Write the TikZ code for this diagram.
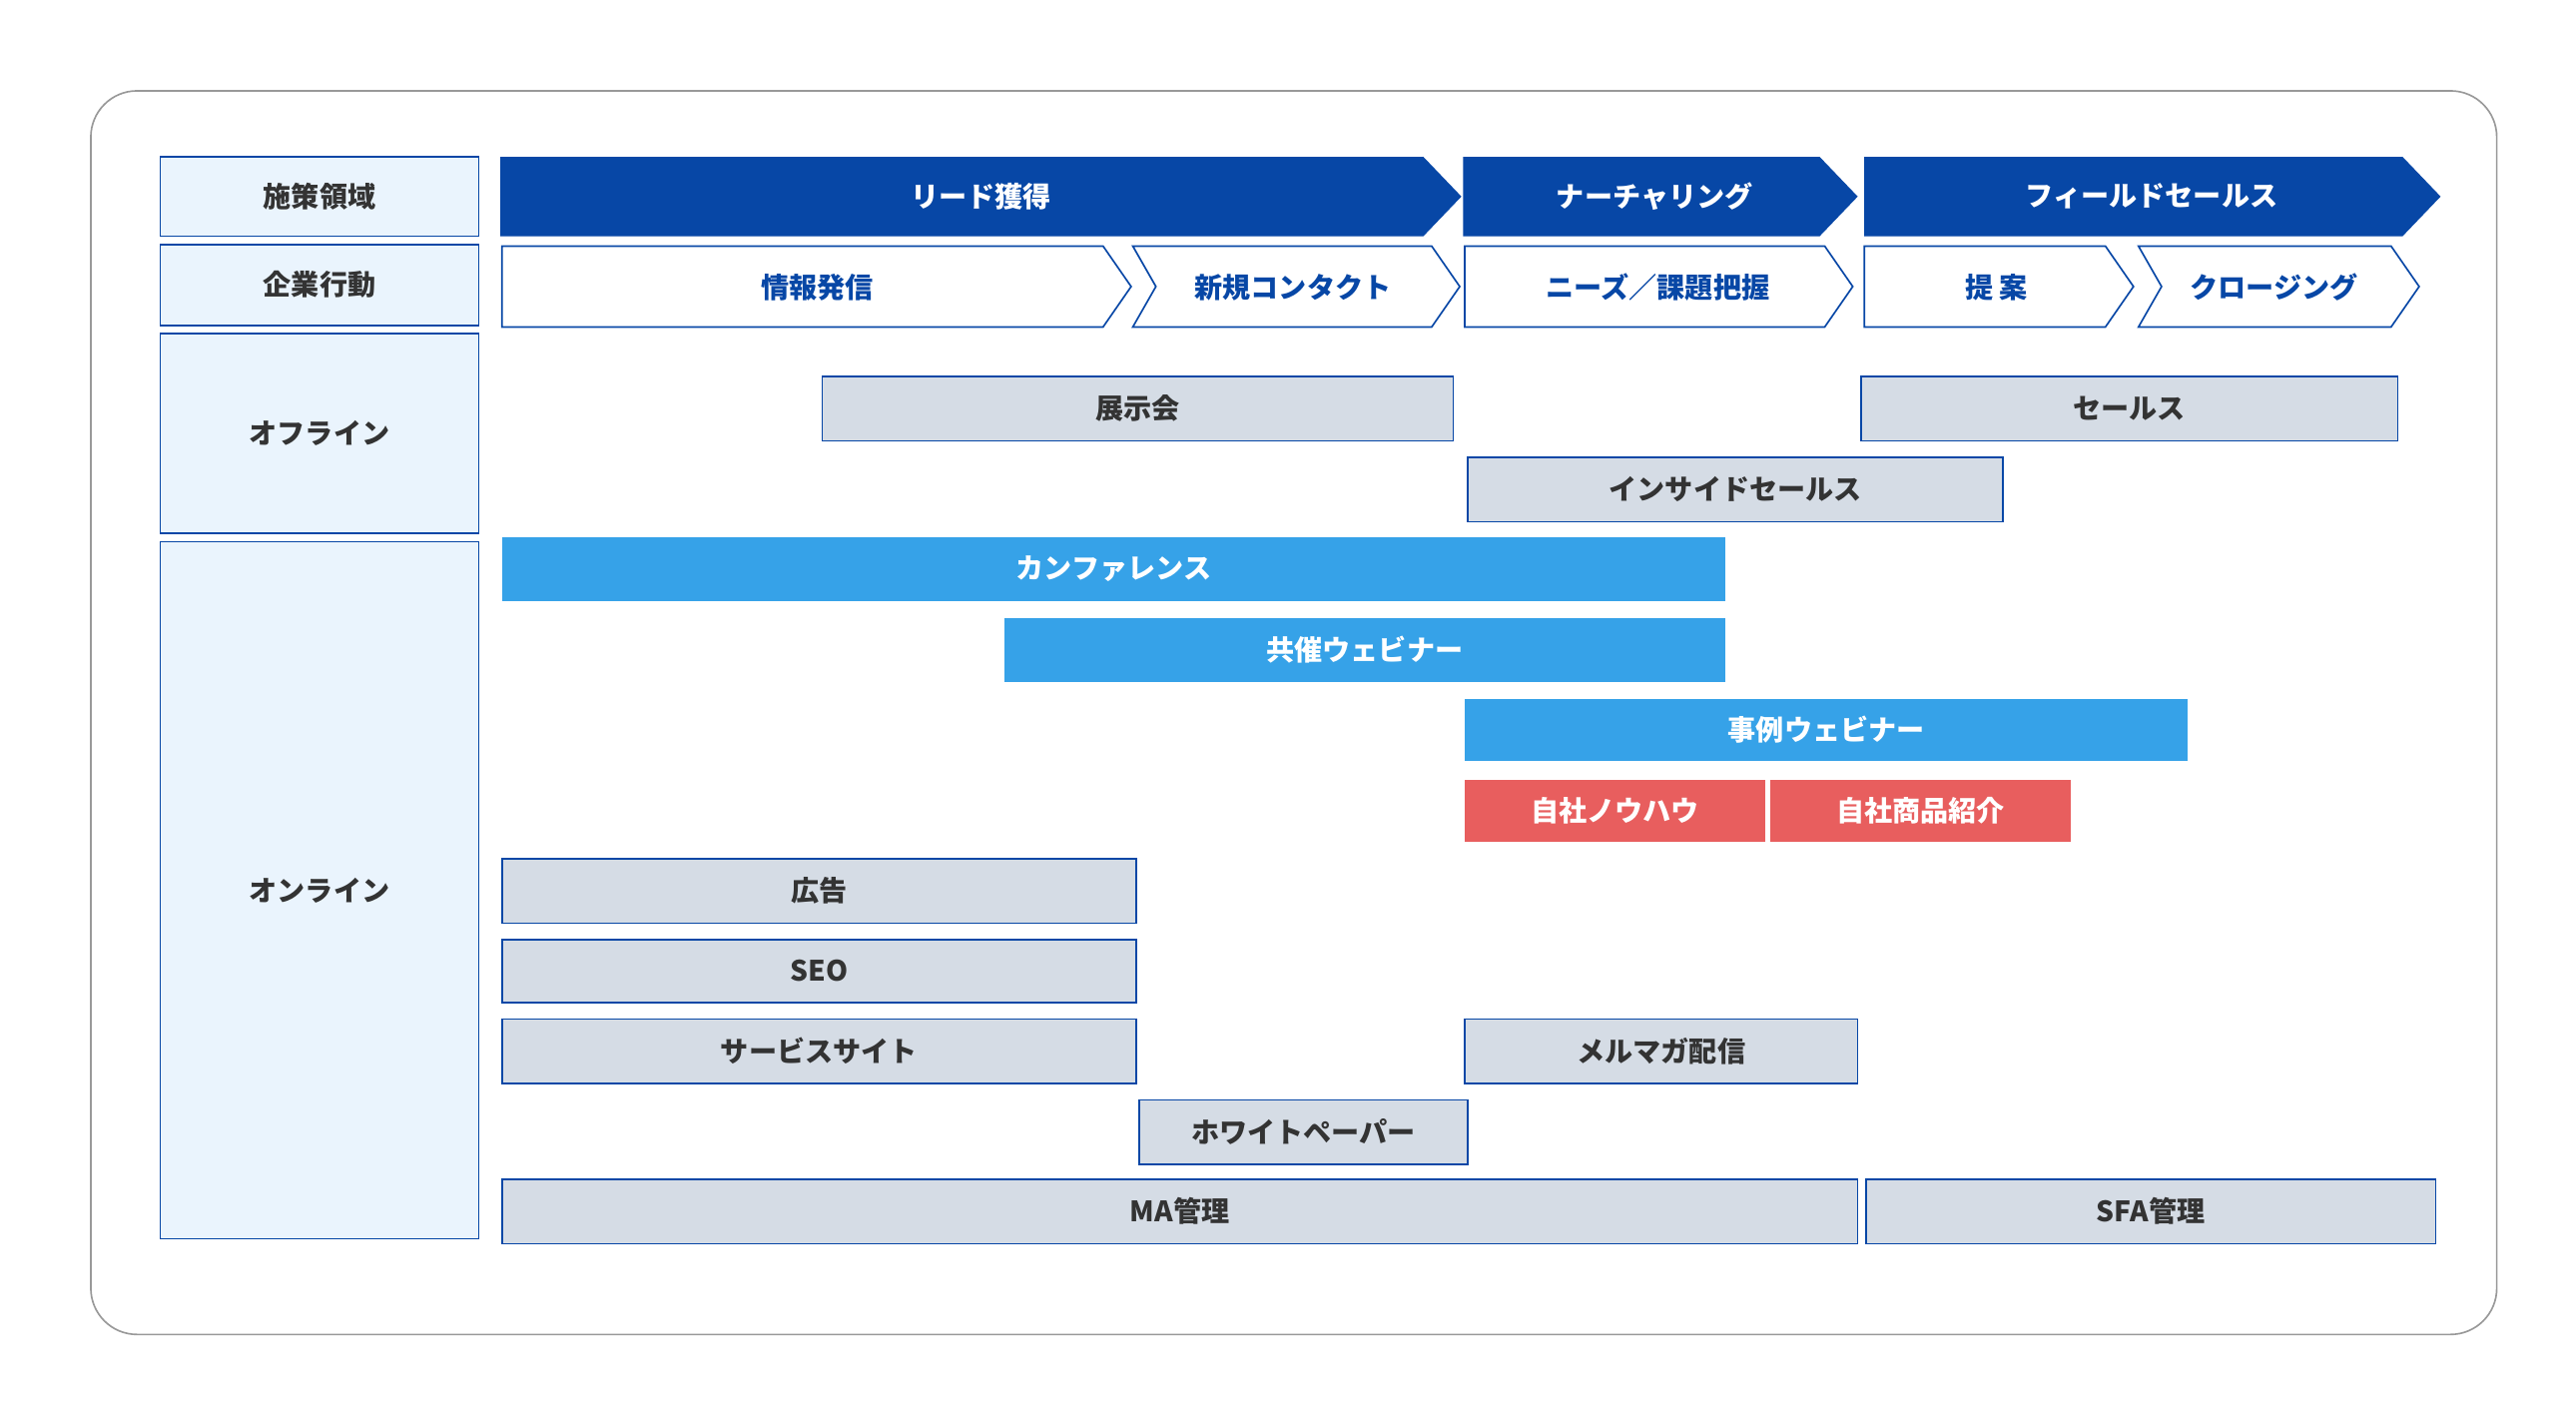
\documentclass[tikz,border=0pt]{standalone}
\usepackage{fontspec}
\setmainfont{Noto Sans CJK JP}
\definecolor{navy}{HTML}{0747A6}
\definecolor{paleblue}{HTML}{EAF4FD}
\definecolor{barfill}{HTML}{D5DCE5}
\definecolor{skyblue}{HTML}{36A2E8}
\definecolor{redbar}{HTML}{E85E5E}
\definecolor{ink}{HTML}{333333}
\newcommand{\planbar}[6]{% name, x1, x2, y1, y2, text
  \node[graybar, minimum width={#3-#2}, minimum height={#5-#4}] (#1) at ({(#2+#3)/2},{(#4+#5)/2}) {#6};}
\tikzset{
  lbl/.style={font=\fontsize{17}{20}\selectfont\bfseries},
  graybar/.style={draw=navy, line width=1pt, fill=barfill, text=ink, lbl, inner sep=0pt},
  headbox/.style={draw=navy, line width=1pt, fill=paleblue, text=ink, lbl, inner sep=0pt},
  bluebar/.style={graybar, draw=none, fill=skyblue, text=white},
  redbox/.style={graybar, draw=none, fill=redbar, text=white},
  arrowhead/.style={fill=navy},
  chevron/.style={draw=navy, line width=1pt, fill=white}
}
\begin{document}
\begin{tikzpicture}[x=1pt,y=-1pt]
\useasboundingbox (0,0) rectangle (1560,860);
\draw[black!40, line width=1pt, rounded corners=28] (55,55) rectangle (1512,808);
% left column
\node[headbox, minimum width=193, minimum height=48] (area) at (193.5,119) {施策領域};
\node[headbox, minimum width=193, minimum height=49] (action) at (193.5,172.5) {企業行動};
\node[headbox, minimum width=193, minimum height=121] (offline) at (193.5,262.5) {オフライン};
\node[headbox, minimum width=193, minimum height=422] (online) at (193.5,539) {オンライン};
% top row
\fill[arrowhead] (303,95) -- (862,95) -- (885,119) -- (862,143) -- (303,143) -- cycle;
\node[lbl, text=white] (lead) at (594,119) {リード獲得};
\fill[arrowhead] (886,95) -- (1102,95) -- (1125,119) -- (1102,143) -- (886,143) -- cycle;
\node[lbl, text=white] (nurture) at (1002,119) {ナーチャリング};
\fill[arrowhead] (1129,95) -- (1455,95) -- (1478,119) -- (1455,143) -- (1129,143) -- cycle;
\node[lbl, text=white] (field) at (1303,119) {フィールドセールス};
% second row
\draw[chevron] (304,149) -- (668,149) -- (685,173.5) -- (668,198) -- (304,198) -- cycle;
\node[lbl, text=navy] (info) at (495,174) {情報発信};
\draw[chevron] (686,149) -- (867,149) -- (884,173.5) -- (867,198) -- (686,198) -- (700,173.5) -- cycle;
\node[lbl, text=navy] (contact) at (783,174) {新規コンタクト};
\draw[chevron] (887,149) -- (1105,149) -- (1122,173.5) -- (1105,198) -- (887,198) -- cycle;
\node[lbl, text=navy] (needs) at (1004,174) {ニーズ／課題把握};
\draw[chevron] (1129,149) -- (1275,149) -- (1292,173.5) -- (1275,198) -- (1129,198) -- cycle;
\node[lbl, text=navy] (propose) at (1209,174) {提 案};
\draw[chevron] (1295,149) -- (1448,149) -- (1465,173.5) -- (1448,198) -- (1295,198) -- (1309,173.5) -- cycle;
\node[lbl, text=navy] (closing) at (1377,174) {クロージング};
% bars
\planbar{expo}{498}{880}{228}{267}{展示会}
\planbar{sales}{1127}{1452}{228}{267}{セールス}
\planbar{inside}{889}{1213}{277}{316}{インサイドセールス}
\node[bluebar, minimum width=741, minimum height=39] (conf) at (674.5,344.5) {カンファレンス};
\node[bluebar, minimum width=437, minimum height=39] (cowebinar) at (826.5,393.5) {共催ウェビナー};
\node[bluebar, minimum width=438, minimum height=38] (casewebinar) at (1106,442) {事例ウェビナー};
\node[redbox, minimum width=182, minimum height=38] (knowhow) at (978,491) {自社ノウハウ};
\node[redbox, minimum width=182, minimum height=38] (product) at (1163,491) {自社商品紹介};
\planbar{ad}{304}{688}{520}{559}{広告}
\planbar{seo}{304}{688}{569}{607}{SEO}
\planbar{site}{304}{688}{617}{656}{サービスサイト}
\planbar{mail}{887}{1125}{617}{656}{メルマガ配信}
\planbar{paper}{690}{889}{666}{705}{ホワイトペーパー}
\planbar{ma}{304}{1125}{714}{753}{MA管理}
\planbar{sfa}{1130}{1475}{714}{753}{SFA管理}
\end{tikzpicture}
\end{document}
